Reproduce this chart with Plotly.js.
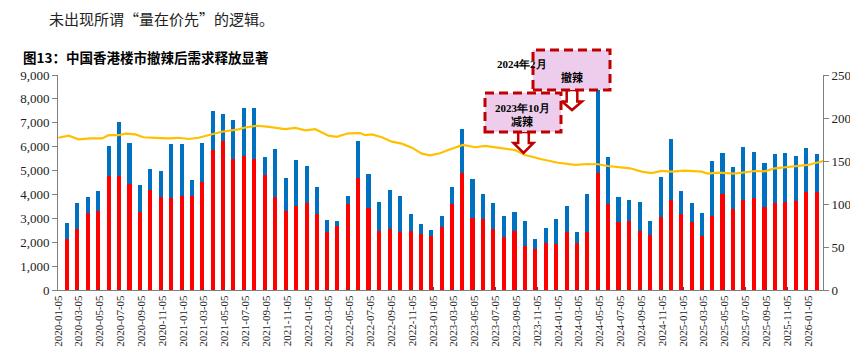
<!DOCTYPE html>
<html>
<head>
<meta charset="utf-8">
<script src="https://cdn.plot.ly/plotly-3.0.1.min.js"></script>
<style>html,body{margin:0;padding:0;background:#fff;}#chart{width:850px;height:359px;}</style>
</head>
<body>
<div id="chart"></div>
<script>
// Monthly data (2020-01 .. 2026-01)
const months = [
 '2020-01','2020-02','2020-03','2020-04','2020-05','2020-06','2020-07','2020-08','2020-09','2020-10','2020-11','2020-12',
 '2021-01','2021-02','2021-03','2021-04','2021-05','2021-06','2021-07','2021-08','2021-09','2021-10','2021-11','2021-12',
 '2022-01','2022-02','2022-03','2022-04','2022-05','2022-06','2022-07','2022-08','2022-09','2022-10','2022-11','2022-12',
 '2023-01','2023-02','2023-03','2023-04','2023-05','2023-06','2023-07','2023-08','2023-09','2023-10','2023-11','2023-12',
 '2024-01','2024-02','2024-03','2024-04','2024-05','2024-06','2024-07','2024-08','2024-09','2024-10','2024-11','2024-12',
 '2025-01','2025-02','2025-03','2025-04','2025-05','2025-06','2025-07','2025-08','2025-09','2025-10','2025-11','2025-12',
 '2026-01'
];
// lower (red) segment
const redValues = [
 2120,2540,3220,3320,4790,4790,4440,3270,4190,3880,3850,3940,
 3940,4540,5860,6240,5470,5610,5480,4810,3880,3320,3520,3630,
 3170,2410,2680,3610,4670,3420,2470,2540,2410,2470,2330,2250,
 2650,3600,4880,3000,2970,2550,2220,2480,1860,1720,1970,1940,
 2440,1970,2440,4880,3600,2850,2870,2470,2300,3040,3770,3180,
 2830,2260,3100,4030,3390,3770,3870,3470,3640,3670,3740,4120,
 4090
];
// upper (blue) segment
const blueValues = [
 680,1090,690,810,1240,2230,1730,1130,880,1100,2260,2160,
 650,1630,1630,1110,1660,2020,2130,770,2010,1350,1920,1550,
 1140,530,220,330,1550,1450,1230,1630,1510,710,450,280,
 430,730,1850,1630,1060,1110,890,800,1040,430,630,1020,
 1080,440,1570,3720,1980,1040,880,1210,570,1700,2570,950,
 830,980,2300,1710,1760,2220,1920,1860,2040,2080,1880,1810,
 1620
];
// price index line (right axis)
const lineDates = [
 '2020-01-05','2020-02-04','2020-03-04','2020-04-08','2020-05-12','2020-05-31','2020-06-29','2020-07-19','2020-08-17','2020-09-10',
 '2020-10-14','2020-11-22','2020-12-22','2021-01-20','2021-02-18','2021-03-19','2021-04-27','2021-06-15','2021-07-04','2021-08-08',
 '2021-09-06','2021-10-29','2021-11-28','2021-12-27','2022-01-25','2022-03-05','2022-03-29','2022-05-02','2022-06-06','2022-06-20',
 '2022-07-10','2022-08-08','2022-09-06','2022-10-05','2022-11-04','2022-12-03','2022-12-27','2023-01-25','2023-02-18','2023-04-02',
 '2023-05-08','2023-06-06','2023-08-03','2023-09-01','2023-10-01','2023-11-18','2024-01-05','2024-02-24','2024-04-02','2024-05-01',
 '2024-05-30','2024-08-03','2024-09-06','2024-10-05','2024-11-03','2024-12-02','2025-01-10','2025-02-28','2025-03-18','2025-04-17',
 '2025-06-05','2025-07-05','2025-08-03','2025-09-01','2025-09-30','2025-11-07','2025-12-06','2026-01-05','2026-01-30','2026-02-18'
];
const lineValues = [
 177,179.5,175.2,176.3,176.3,180,180,181.8,181,177.6,
 177,176.3,177,175.6,177,180,184,186.8,189,191,
 190,187,188.5,185.7,187,179.5,178,182.2,182.5,180,
 181,177.6,172.5,170.2,165.5,158.5,156.6,159,162.8,168.6,
 166,167.5,164.8,162.8,157,152,148,145.4,146.5,146.2,
 144.2,141.5,137.6,136,138.4,137.6,138.8,137.6,135.3,136.5,
 135.3,136.5,138.4,138,141.5,143,144.2,145.4,148,150
];
const leftTicks = [0,1000,2000,3000,4000,5000,6000,7000,8000,9000];
const rightTicks = [0,50,100,150,200,250];

// bar positions: end of each month
const barDates = months.map(m => {
  const [y, mo] = m.split('-').map(Number);
  const d = new Date(Date.UTC(y, mo, 0));
  return d.toISOString().slice(0, 10);
});

const serif = 'Liberation Serif, Times New Roman, serif';
const cjk = 'Noto Sans CJK SC, sans-serif';
const DAY = 86400000;

const traces = [
  {type:'bar', x:barDates, y:redValues, marker:{color:'#FF0000', line:{width:0}}, width:12*DAY, name:'red', hoverinfo:'skip'},
  {type:'bar', x:barDates, y:blueValues, marker:{color:'#0070C0', line:{width:0}}, width:12*DAY, name:'blue', hoverinfo:'skip'},
  {type:'scatter', mode:'lines', x:lineDates, y:lineValues, yaxis:'y2', line:{color:'#FFC000', width:2.2}, name:'index', hoverinfo:'skip'}
];

// pixel helpers for decorations
const L = 58, R = 823, T = 75, B = 290;
const px = x => (x - L) / (R - L);
const py = y => (B - y) / (B - T);

function blockArrow(cx, top, headStart, bottom, shaftHalf, headHalf) {
  const pts = [
    [cx - shaftHalf, top], [cx + shaftHalf, top], [cx + shaftHalf, headStart], [cx + headHalf, headStart],
    [cx, bottom], [cx - headHalf, headStart], [cx - shaftHalf, headStart]
  ];
  return 'M ' + pts.map(p => px(p[0]).toFixed(5) + ',' + py(p[1]).toFixed(5)).join(' L ') + ' Z';
}

const boxStyle = {type:'rect', xref:'paper', yref:'paper', fillcolor:'#EDCDEB', line:{color:'#C00000', width:3, dash:'9px,5px'}, layer:'above'};
const arrowStyle = {type:'path', xref:'paper', yref:'paper', fillcolor:'#FFFFFF', line:{color:'#C00000', width:2.5}, layer:'above'};

const shapes = [
  Object.assign({}, arrowStyle, {path: blockArrow(572, 90, 101.5, 110, 5.3, 10)}),
  Object.assign({}, arrowStyle, {path: blockArrow(523.5, 132, 143, 153, 5.3, 10)}),
  Object.assign({}, boxStyle, {x0:px(533), x1:px(610), y0:py(90), y1:py(50)}),
  Object.assign({}, boxStyle, {x0:px(485), x1:px(561), y0:py(132), y1:py(93)})
];

const annotations = [
  {text:'未出现所谓“量在价先”的逻辑。', xref:'paper', yref:'paper', x:px(47), y:py(18), xanchor:'left', yanchor:'middle', showarrow:false, font:{family:cjk, size:15, color:'#222'}},
  {text:'<b>图13：中国香港楼市撤辣后需求释放显著</b>', xref:'paper', yref:'paper', x:px(21), y:py(57), xanchor:'left', yanchor:'middle', showarrow:false, font:{family:cjk, size:13.5, color:'#000'}},
  {text:'<b>2024年2月</b>', xref:'paper', yref:'paper', x:px(522), y:py(64), xanchor:'center', yanchor:'middle', showarrow:false, font:{family:serif, size:11, color:'#000'}},
  {text:'<b>撤辣</b>', xref:'paper', yref:'paper', x:px(572), y:py(77), xanchor:'center', yanchor:'middle', showarrow:false, font:{family:cjk, size:11, color:'#000'}},
  {text:'<b>2023年10月</b>', xref:'paper', yref:'paper', x:px(522), y:py(108), xanchor:'center', yanchor:'middle', showarrow:false, font:{family:serif, size:11, color:'#000'}},
  {text:'<b>减辣</b>', xref:'paper', yref:'paper', x:px(522), y:py(121), xanchor:'center', yanchor:'middle', showarrow:false, font:{family:cjk, size:11, color:'#000'}}
];

const layout = {
  width:850, height:359,
  margin:{l:L, r:850-R, t:T, b:359-B, pad:0},
  paper_bgcolor:'#fff', plot_bgcolor:'#fff',
  barmode:'stack', bargap:0,
  showlegend:false,
  xaxis:{
    type:'date', range:['2020-01-04','2026-02-18'],
    tick0:'2020-01-05', dtick:'M2', tickformat:'%Y-%m-%d', tickangle:-90,
    tickfont:{family:serif, size:11, color:'#222'},
    showgrid:false, zeroline:false, showline:true, linecolor:'#7f7f7f', linewidth:1,
    ticks:'inside', ticklen:3, tickcolor:'#444'
  },
  yaxis:{
    range:[0,9000], tickvals:leftTicks, tickformat:',d',
    tickfont:{family:serif, size:13, color:'#222'},
    showgrid:false, zeroline:false, showline:true, linecolor:'#7f7f7f', linewidth:1,
    ticks:'outside', ticklen:5, tickcolor:'#7f7f7f'
  },
  yaxis2:{
    overlaying:'y', side:'right', range:[0,250], tickvals:rightTicks,
    tickfont:{family:serif, size:13, color:'#222'},
    showgrid:false, zeroline:false, showline:true, linecolor:'#7f7f7f', linewidth:1,
    ticks:'outside', ticklen:5, tickcolor:'#7f7f7f'
  },
  shapes:shapes,
  annotations:annotations
};

Plotly.newPlot('chart', traces, layout, {staticPlot:true, displayModeBar:false});
</script>
</body>
</html>
